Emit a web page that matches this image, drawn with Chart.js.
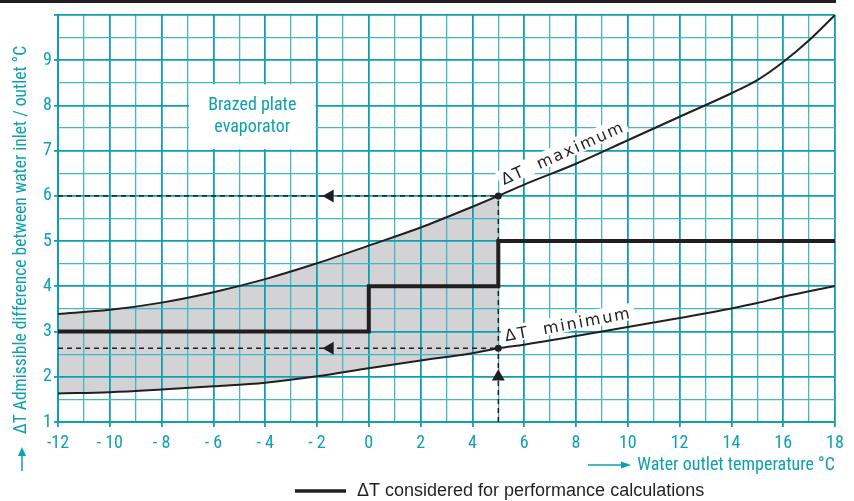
<!DOCTYPE html>
<html>
<head>
<meta charset="utf-8">
<script src="https://cdn.jsdelivr.net/npm/chart.js@4.4.1/dist/chart.umd.min.js"></script>
<style>
  html, body { margin: 0; padding: 0; background: #fff; }
  #wrap { width: 854px; height: 501px; }
</style>
</head>
<body>
<div id="wrap"><canvas id="evapChart" width="854" height="501"></canvas></div>
<script>
// curves: water outlet temp (°C) -> admissible delta T (°C)
const maxTemp = [-12, -10, -8, -6, -4, -2, 0, 2, 4, 5, 6, 8, 10, 12, 14, 15, 16, 17, 18];
const maxDelta = [3.39, 3.48, 3.64, 3.87, 4.16, 4.51, 4.9, 5.3, 5.76, 6.0, 6.25, 6.71, 7.23, 7.75, 8.27, 8.56, 8.96, 9.44, 10.0];
const minTemp = [-12, -10, -8, -6, -4, -2, 0, 2, 4, 5, 6, 8, 10, 12, 14, 15, 16, 18];
const minDelta = [1.63, 1.66, 1.72, 1.79, 1.87, 2.01, 2.19, 2.36, 2.52, 2.63, 2.71, 2.9, 3.1, 3.3, 3.51, 3.63, 3.77, 4.01];

// delta T considered for performance calculations
const stepTemp = [-12, 0, 5, 18];
const stepDelta = [3, 4, 5, 5];

// design point (5 °C outlet)
const designTemp = 5;
const designMax = 6;
const designMin = 2.63;
const arrowTemp = [-1.5, -1.5, 5];
const arrowDelta = [6, 2.63, 2.0];
const arrowTurn = [-90, -90, 0];

const xTickValues = [-12, -10, -8, -6, -4, -2, 0, 2, 4, 6, 8, 10, 12, 14, 16, 18];
const xTickLabels = ['-12', '- 10', '- 8', '- 6', '- 4', '- 2', '0', '2', '4', '6', '8', '10', '12', '14', '16', '18'];
const yTickLabels = ['1', '2', '3', '4', '5', '6', '7', '8', '9'];

const TEAL = '#0ea0af';
const TEAL_MINOR = '#45b7c3';
const INK = '#231f20';
const NARROW = "'Liberation Sans Narrow', 'Roboto Condensed', 'Liberation Sans', sans-serif";

const pts = (xs, ys) => xs.map((v, i) => ({ x: v, y: ys[i] }));
const upTo = (xs, ys, lim) => pts(xs, ys).filter(p => p.x <= lim);

const decor = {
    id: 'decor',
    beforeDatasetsDraw(chart) {
        const { ctx, scales: { x, y } } = chart;
        ctx.save();
        ctx.fillStyle = '#fff';
        // label box, grid hidden behind it
        const bx0 = x.getPixelForValue(-7), bx1 = x.getPixelForValue(-2);
        const by0 = y.getPixelForValue(8.5), by1 = y.getPixelForValue(7);
        ctx.fillRect(bx0 + 1.5, by0 + 1.5, bx1 - bx0 - 3, by1 - by0 - 3);
        ctx.fillStyle = TEAL;
        ctx.font = '18px ' + NARROW;
        ctx.textAlign = 'center';
        ctx.textBaseline = 'middle';
        const cx = (bx0 + bx1) / 2, cy = (by0 + by1) / 2;
        ctx.fillText('Brazed plate', cx, cy - 11);
        ctx.fillText('evaporator', cx, cy + 11);
        ctx.restore();

        // curve labels with a white backing
        const tags = [
            { text: 'ΔT  maximum', tx: 5.25, ty: 6.2, ang: -24 },
            { text: 'ΔT  minimum', tx: 5.3, ty: 2.74, ang: -10.5 }
        ];
        tags.forEach(t => {
            const px = x.getPixelForValue(t.tx), py = y.getPixelForValue(t.ty);
            ctx.save();
            ctx.translate(px, py);
            ctx.rotate(t.ang * Math.PI / 180);
            ctx.font = '16px "DejaVu Sans"';
            ctx.letterSpacing = '2px';
            const w = ctx.measureText(t.text).width;
            ctx.fillStyle = '#fff';
            ctx.fillRect(-3, -17, w + 6, 17);
            ctx.fillStyle = INK;
            ctx.textBaseline = 'alphabetic';
            ctx.fillText(t.text, 0, -2);
            ctx.restore();
        });
    },
    afterDraw(chart) {
        const { ctx } = chart;
        ctx.save();
        // rule across the top
        ctx.fillStyle = INK;
        ctx.fillRect(0, 0, 836, 3);

        // y axis title + arrow
        ctx.fillStyle = TEAL;
        ctx.strokeStyle = TEAL;
        ctx.font = '17.5px ' + NARROW;
        ctx.save();
        ctx.translate(22, 240);
        ctx.rotate(-Math.PI / 2);
        ctx.textAlign = 'center';
        ctx.textBaseline = 'middle';
        ctx.fillText('ΔT Admissible difference between water inlet / outlet °C', 0, 0);
        ctx.restore();
        ctx.lineWidth = 1.5;
        ctx.beginPath(); ctx.moveTo(22, 471); ctx.lineTo(22, 454); ctx.stroke();
        ctx.beginPath(); ctx.moveTo(22, 447); ctx.lineTo(18, 456); ctx.lineTo(26, 456); ctx.closePath(); ctx.fill();

        // x axis title + arrow
        ctx.beginPath(); ctx.moveTo(588, 465); ctx.lineTo(622, 465); ctx.stroke();
        ctx.beginPath(); ctx.moveTo(631, 465); ctx.lineTo(621, 461.5); ctx.lineTo(621, 468.5); ctx.closePath(); ctx.fill();
        ctx.font = '18px ' + NARROW;
        ctx.textAlign = 'right';
        ctx.textBaseline = 'middle';
        ctx.fillText('Water outlet temperature °C', 835, 465);

        // legend
        ctx.strokeStyle = INK;
        ctx.lineWidth = 3.5;
        ctx.beginPath(); ctx.moveTo(295, 491); ctx.lineTo(346, 491); ctx.stroke();
        ctx.fillStyle = INK;
        ctx.font = "18px 'Liberation Sans', Arial, sans-serif";
        ctx.textAlign = 'left';
        ctx.fillText('ΔT considered for performance calculations', 357, 491);
        ctx.restore();
    }
};

const dashed = (data) => ({
    data, borderColor: INK, borderWidth: 1.5, borderDash: [5, 4],
    pointRadius: 0, fill: false
});

new Chart(document.getElementById('evapChart'), {
    type: 'line',
    data: {
        datasets: [
            { data: pts(stepTemp, stepDelta), stepped: 'before', borderColor: INK, borderWidth: 4, pointRadius: 0, fill: false },
            { data: pts(maxTemp, maxDelta), borderColor: INK, borderWidth: 2, pointRadius: 0, cubicInterpolationMode: 'monotone', fill: false },
            { data: pts(minTemp, minDelta), borderColor: INK, borderWidth: 2, pointRadius: 0, cubicInterpolationMode: 'monotone', fill: false },
            { data: upTo(maxTemp, maxDelta, designTemp), borderColor: 'transparent', borderWidth: 1, pointRadius: 0, cubicInterpolationMode: 'monotone', fill: '+1', backgroundColor: '#d3d3d5' },
            { data: upTo(minTemp, minDelta, designTemp), borderColor: 'transparent', borderWidth: 1, pointRadius: 0, cubicInterpolationMode: 'monotone', fill: false },
            dashed([{ x: -12, y: designMax }, { x: designTemp, y: designMax }]),
            dashed([{ x: -12, y: designMin }, { x: designTemp, y: designMin }]),
            dashed([{ x: designTemp, y: 1 }, { x: designTemp, y: designMax }]),
            { data: [{ x: designTemp, y: designMax }, { x: designTemp, y: designMin }], showLine: false, pointRadius: 3.5, pointBackgroundColor: INK, pointBorderWidth: 0 },
            { data: pts(arrowTemp, arrowDelta), showLine: false, pointStyle: 'triangle', pointRadius: 7.5, pointRotation: arrowTurn, pointBackgroundColor: INK, pointBorderWidth: 0 }
        ]
    },
    options: {
        responsive: false,
        animation: false,
        layout: { padding: { top: 15, right: 19, left: 0, bottom: 0 } },
        plugins: {
            legend: { display: false },
            tooltip: { enabled: false },
            filler: { drawTime: 'beforeDraw' }
        },
        scales: {
            x: {
                type: 'linear', min: -12, max: 18,
                afterFit: s => { s.height = 79; },
                ticks: {
                    stepSize: 1, autoSkip: false, maxRotation: 0, padding: 6,
                    color: TEAL, font: { family: NARROW, size: 18 },
                    callback: v => { const i = xTickValues.indexOf(v); return i >= 0 ? xTickLabels[i] : ''; }
                },
                grid: {
                    color: c => (c.tick && c.tick.value % 2 === 0) ? TEAL : TEAL_MINOR,
                    lineWidth: c => (c.tick && c.tick.value % 2 === 0) ? 1.8 : 1.3,
                    tickLength: 5,
                    tickColor: c => (c.tick && c.tick.value % 2 === 0) ? TEAL : 'transparent'
                },
                border: { color: TEAL, width: 2 }
            },
            y: {
                type: 'linear', min: 1, max: 10,
                afterFit: s => { s.width = 58; },
                ticks: {
                    stepSize: 0.5, autoSkip: false, padding: 2,
                    color: TEAL, font: { family: NARROW, size: 18 },
                    callback: v => Number.isInteger(v) && v < 10 ? yTickLabels[v - 1] : ''
                },
                grid: {
                    color: c => (c.tick && Number.isInteger(c.tick.value)) ? TEAL : TEAL_MINOR,
                    lineWidth: c => (c.tick && Number.isInteger(c.tick.value)) ? 1.8 : 1.3,
                    tickLength: 4,
                    tickColor: c => (c.tick && Number.isInteger(c.tick.value)) ? TEAL : 'transparent'
                },
                border: { color: TEAL, width: 2 }
            }
        }
    },
    plugins: [decor]
});
</script>
</body>
</html>
